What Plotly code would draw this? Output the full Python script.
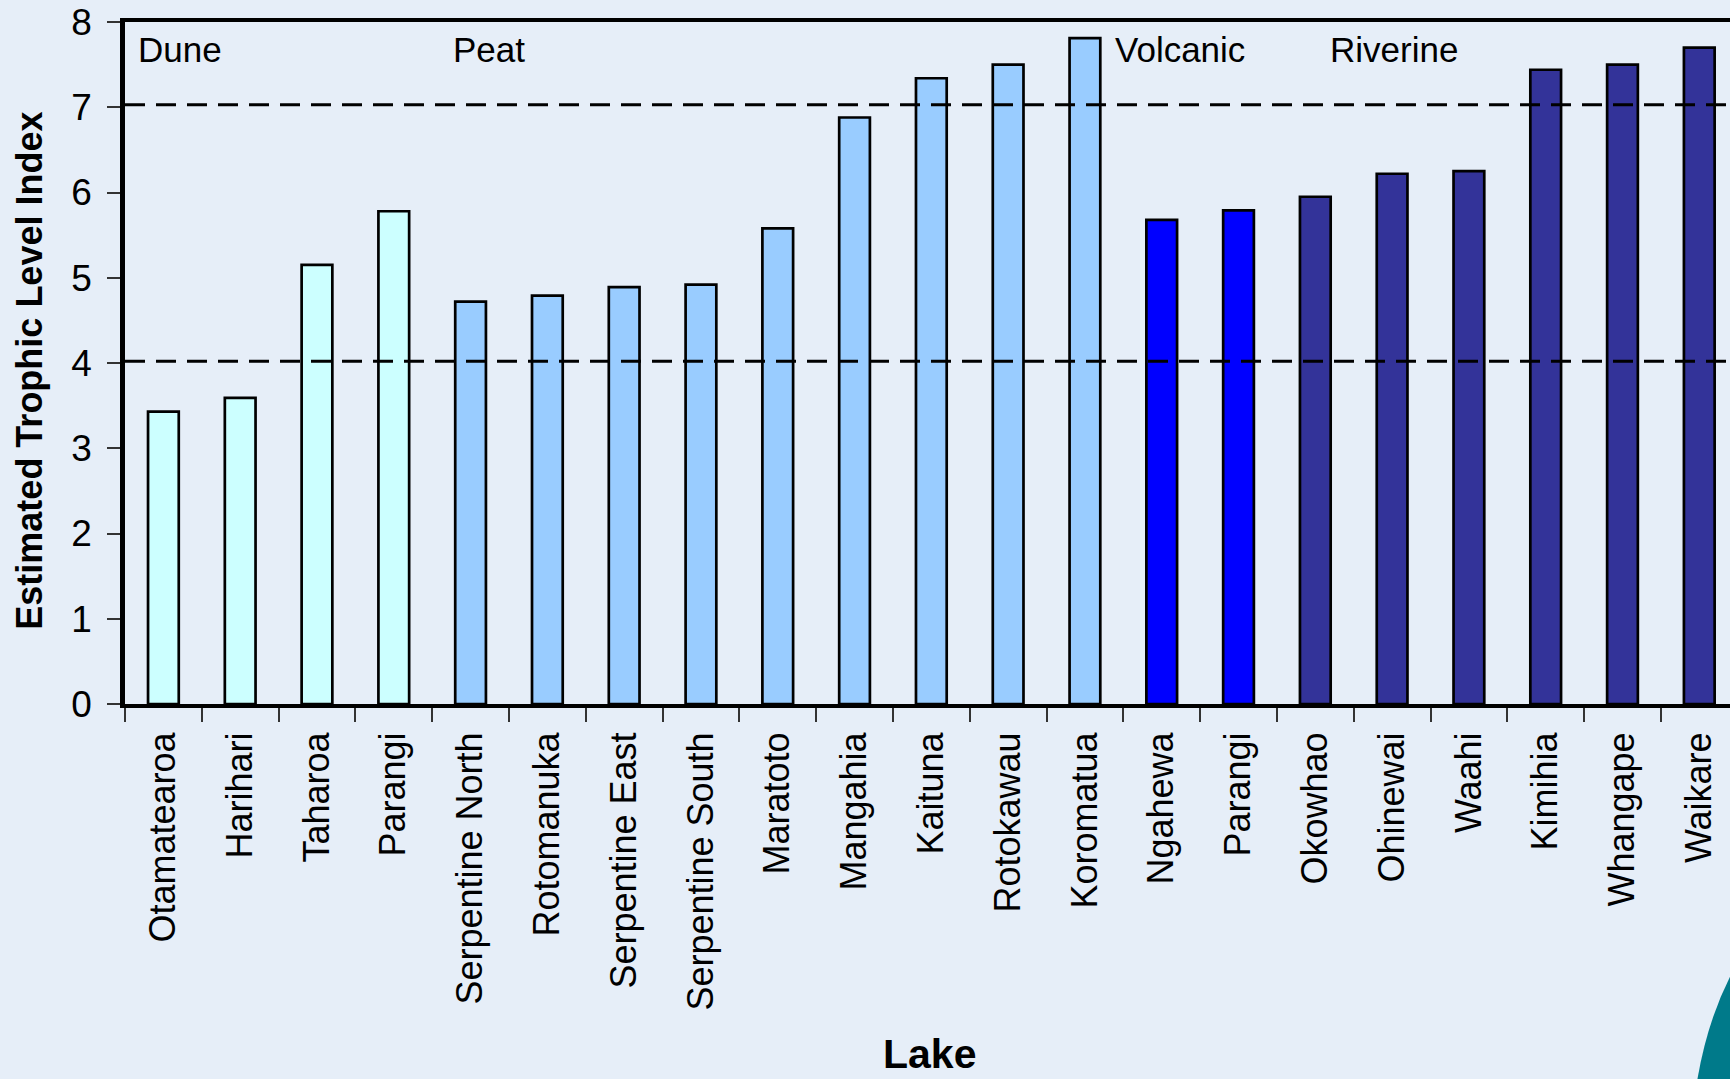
import plotly.graph_objects as go

# ---- data ----
lakes = ["Otamatearoa", "Harihari", "Taharoa", "Parangi",
         "Serpentine North", "Rotomanuka", "Serpentine East", "Serpentine South",
         "Maratoto", "Mangahia", "Kaituna", "Rotokawau", "Koromatua",
         "Ngahewa", "Parangi",
         "Okowhao", "Ohinewai", "Waahi", "Kimihia", "Whangape", "Waikare"]
tli = [3.43, 3.59, 5.15, 5.78,
       4.72, 4.79, 4.89, 4.92, 5.58, 6.88, 7.34, 7.50, 7.81,
       5.68, 5.79,
       5.95, 6.22, 6.25, 7.44, 7.50, 7.70]
lake_type = (["Dune"] * 4 + ["Peat"] * 9 + ["Volcanic"] * 2 + ["Riverine"] * 6)
type_colors = {"Dune": "#CCFFFF", "Peat": "#99CCFF",
               "Volcanic": "#0000FF", "Riverine": "#333399"}
type_labels = ["Dune", "Peat", "Volcanic", "Riverine"]
type_label_x = [-0.36, 3.75, 12.36, 15.16]
thresholds = [7.03, 4.02]
y_ticks = [0, 1, 2, 3, 4, 5, 6, 7, 8]

FONT = "Liberation Sans, Arial, sans-serif"
BG = "#E6EEF8"

idx = list(range(len(lakes)))
fig = go.Figure()
fig.add_trace(go.Bar(
    x=idx, y=tli, width=0.40,
    marker=dict(color=[type_colors[t] for t in lake_type],
                line=dict(color="black", width=2.7)),
    showlegend=False,
))

for t in thresholds:
    fig.add_hline(y=t, line=dict(color="black", width=3, dash="20px,11px"))

for lab, xx in zip(type_labels, type_label_x):
    fig.add_annotation(x=xx, y=7.68, xref="x", yref="y", text=lab,
                       showarrow=False, xanchor="left", yanchor="middle",
                       font=dict(family=FONT, size=35, color="black"))

# axis titles
fig.add_annotation(x=-0.0595, y=0.488, xref="paper", yref="paper",
                   text="<b>Estimated Trophic Level Index</b>", textangle=-90,
                   showarrow=False, xanchor="center", yanchor="middle",
                   font=dict(family=FONT, size=36, color="black"))
fig.add_annotation(x=0.501, y=-0.5495, xref="paper", yref="paper",
                   text="<b>Lake</b>", showarrow=False,
                   xanchor="center", yanchor="bottom",
                   font=dict(family=FONT, size=41, color="black"))

# teal decoration at bottom-right corner of the slide background
fig.add_shape(type="path", xref="paper", yref="paper",
              path="M 1.0,-0.40 Q 0.985,-0.47 0.979,-0.56 L 1.0,-0.56 Z",
              fillcolor="#007A8A", line=dict(width=0), layer="below")

fig.update_layout(
    width=1730, height=1079,
    margin=dict(l=125, r=0, t=22, b=375),
    paper_bgcolor=BG, plot_bgcolor=BG,
    font=dict(family=FONT, size=36, color="black"),
)
fig.update_xaxes(
    range=[-0.5, 20.4],
    tickmode="array", tickvals=idx, ticktext=lakes, tickangle=-90,
    ticks="", ticklen=0,
    minor=dict(tickmode="array", tickvals=[i - 0.5 for i in range(len(lakes) + 1)],
               ticks="outside", ticklen=14, tickwidth=1.5, tickcolor="#333333"),
    showline=True, linecolor="black", linewidth=4, mirror=True,
    showgrid=False, zeroline=False,
    tickfont=dict(family=FONT, size=36, color="black"),
    ticklabelstandoff=10,
)
fig.update_yaxes(
    range=[0, 8], tickmode="array", tickvals=y_ticks,
    ticks="outside", ticklen=13, tickwidth=1.5, tickcolor="#333333",
    showline=True, linecolor="black", linewidth=4.5, mirror=False,
    showgrid=False, zeroline=False,
    tickfont=dict(family=FONT, size=37, color="black"),
    ticklabelstandoff=8,
)

fig.write_html(
    "out.html",
    config={"displayModeBar": False},
    post_script="document.body.style.margin='0';"
                "document.body.style.background='#E6EEF8';",
)
